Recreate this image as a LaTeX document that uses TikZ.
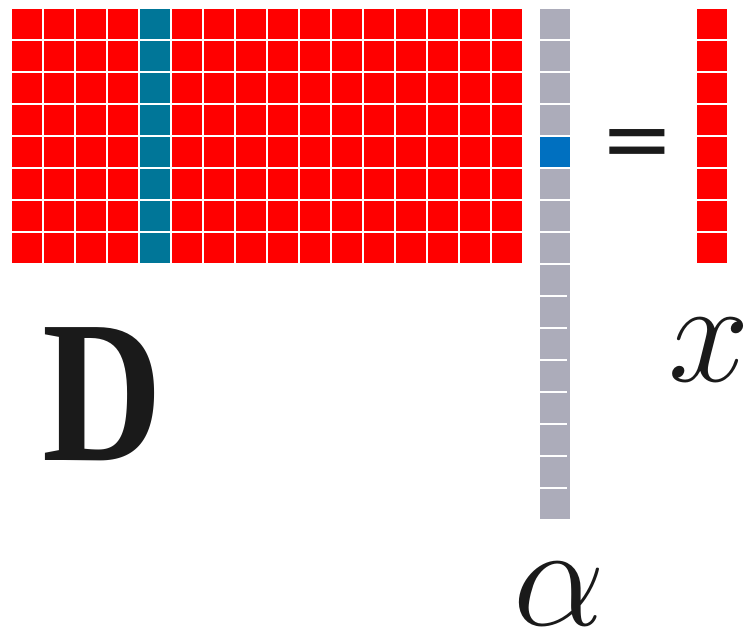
\documentclass[tikz,border=0pt]{standalone}
\usepackage{fix-cm}
\usepackage{fontspec}
\newfontfamily\eqfont{DejaVu Sans}
\newfontfamily\dfont{Liberation Serif}[FakeStretch=0.82]
\definecolor{cellred}{HTML}{FF0000}
\definecolor{cellteal}{HTML}{007698}
\definecolor{cellgray}{HTML}{ACACBA}
\definecolor{cellblue}{HTML}{0070C0}
\definecolor{ink}{HTML}{1A1A1A}
\tikzset{
  redcell/.style={fill=cellred},
  tealcell/.style={fill=cellteal},
  bigtext/.style={inner sep=0pt, anchor=base, text=ink},
}
\begin{document}
\begin{tikzpicture}[x=1pt,y=-1pt]
\useasboundingbox (0,0) rectangle (744,633);
% matrix D
\foreach \i in {0,...,15}{
  \foreach \j in {0,...,7}{
    \ifnum\i=4
      \fill[tealcell] ({12+32*\i},{9+32*\j}) rectangle ++(30,30);
    \else
      \fill[redcell] ({12+32*\i},{9+32*\j}) rectangle ++(30,30);
    \fi
  }
}
% alpha column
\fill[cellgray] (540,9) rectangle (570,519);
\foreach \j in {1,...,8}{
  \fill[white] (540,{9+32*\j-2}) rectangle (570,{9+32*\j});
}
\foreach \j in {9,...,15}{
  \fill[white] (540,{9+32*\j-2}) rectangle (567,{9+32*\j});
}
\fill[cellblue] (540,137) rectangle (570,167);
% x column
\foreach \j in {0,...,7}{
  \fill[redcell] (697,{9+32*\j}) rectangle ++(30,30);
}
% labels
\node[bigtext] (D) at (102.5,460) {\dfont\bfseries\fontsize{203}{210}\selectfont D};
\node[bigtext] (eq) at (637.5,169) {\eqfont\fontsize{88}{96}\selectfont =};
\node[bigtext] (x) at (709,381) {\fontsize{146}{160}\selectfont $x$};
\node[bigtext] (alpha) at (559,625) {\fontsize{146}{160}\selectfont $\alpha$};
\end{tikzpicture}
\end{document}
